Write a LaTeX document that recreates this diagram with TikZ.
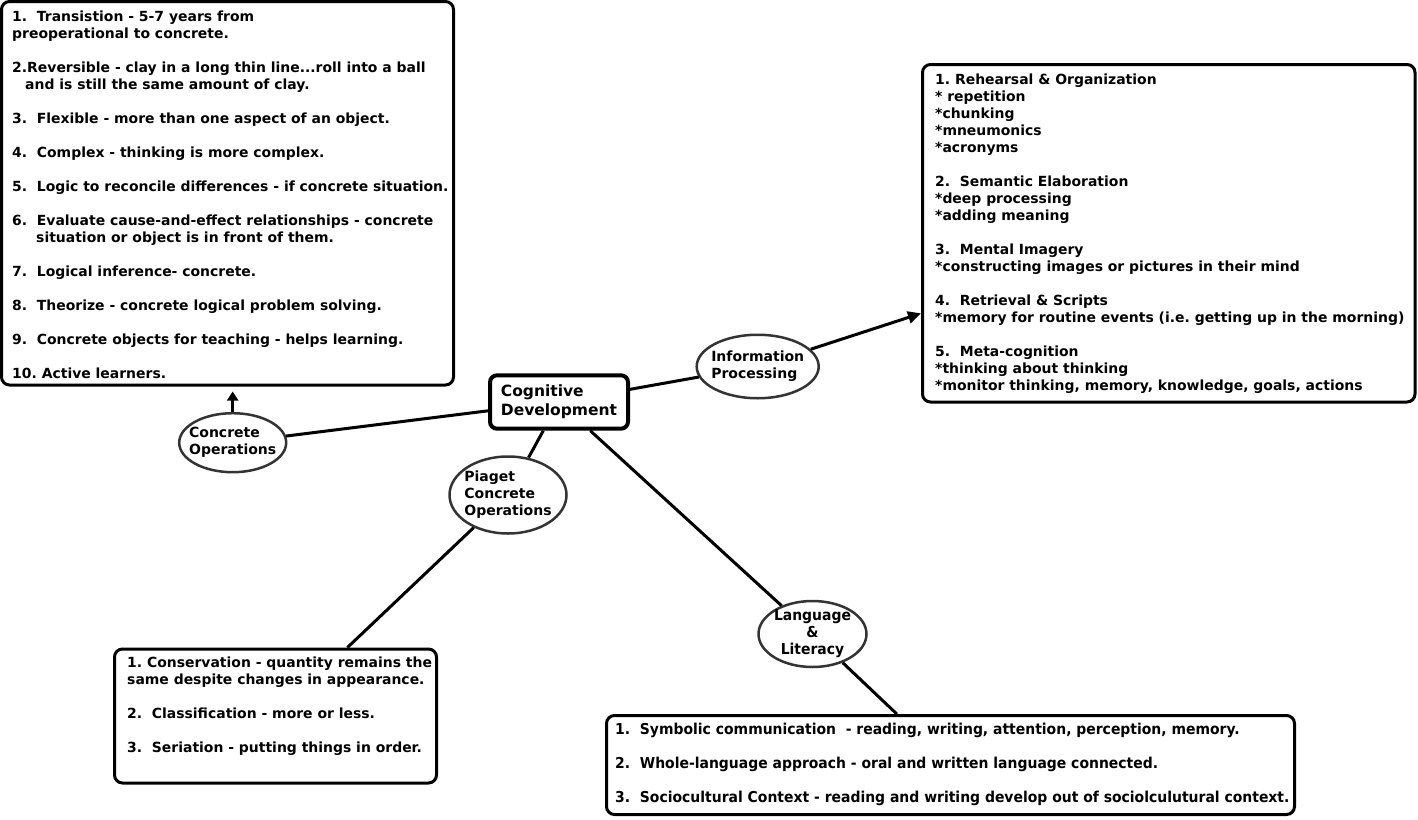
\documentclass[tikz,border=0pt]{standalone}
\usepackage{fontspec}
\setmainfont{DejaVu Sans}
\newfontfamily\narrowfont{DejaVu Sans}[FakeStretch=0.93]
\usetikzlibrary{shapes.geometric,arrows.meta}
\frenchspacing
\begin{document}
\begin{tikzpicture}[x=1pt,y=-1pt,
  frame/.style={draw=black, line width=3pt, rounded corners=8pt, fill=white, inner sep=0pt},
  txt/.style={anchor=north west, inner sep=0pt, align=left, font=\fontsize{13.95}{17}\selectfont\bfseries},
  ntxt/.style={anchor=north west, inner sep=0pt, align=left, font=\narrowfont\fontsize{15}{17}\selectfont\bfseries},
  oval/.style={ellipse, draw=black!80, line width=2.5pt, fill=white, inner sep=-6pt, align=left, font=\fontsize{14}{17}\selectfont\bfseries},
  hub/.style={draw=black, line width=4pt, rounded corners=7pt, fill=white, inner sep=0pt, align=left, font=\fontsize{15.5}{19}\selectfont\bfseries},
  link/.style={line width=3pt},
  arr/.style={line width=3pt, -{Triangle[length=13pt,width=12pt]}}]
\useasboundingbox (0,0) rectangle (1418,819);

% frames
\node[frame, minimum width=452pt, minimum height=383.5pt] (b1) at (227.5,193.25) {};
\node[frame, minimum width=492.5pt, minimum height=337.5pt] (b2) at (1168.75,233.25) {};
\node[frame, minimum width=322pt, minimum height=134pt] (b3) at (275.5,716) {};
\node[frame, minimum width=688pt, minimum height=99pt] (b4) at (950.5,765) {};

% central and ellipses
\node[hub, minimum width=138pt, minimum height=53.4pt] (cog) at (559,402) {Cognitive\\Development};
\node[oval, minimum width=107pt, minimum height=59pt] (conc) at (232.7,442.7) {Concrete\\Operations};
\node[oval, minimum width=122pt, minimum height=63.5pt] (info) at (757.7,366.5) {Information\\Processing};
\node[oval, minimum width=117pt, minimum height=77pt] (pia) at (508,495) {Piaget\\Concrete\\Operations};
\node[oval, align=center, font=\narrowfont\fontsize{15}{17}\selectfont\bfseries, minimum width=108pt, minimum height=66pt] (lang) at (812.5,634) {Language\\\&\\Literacy};

% connectors
\draw[link] (conc) -- (cog);
\draw[link] (cog) -- (info);
\draw[link] (cog) -- (pia);
\draw[link] (cog) -- (lang);
\draw[link] (pia) -- (b3);
\draw[link] (lang) -- (b4);
\draw[arr] (info) -- (b2);
\draw[line width=3pt, -{Triangle[length=9pt,width=11pt]}, shorten >=5pt] (conc.north) -- (conc.north |- b1.south);

% texts
\node[txt] (t1) at (12,11) {1.\ \ Transistion - 5-7 years from\\
preoperational to concrete.\\[17pt]
2.Reversible - clay in a long thin line...roll into a ball\\
\hspace*{13pt}and is still the same amount of clay.\\[17pt]
3.\ \ Flexible - more than one aspect of an object.\\[17pt]
4.\ \ Complex - thinking is more complex.\\[17pt]
5.\ \ Logic to reconcile differences - if concrete situation.\\[17pt]
6.\ \ Evaluate cause-and-effect relationships - concrete\\
\hspace*{24pt}situation or object is in front of them.\\[17pt]
7.\ \ Logical inference- concrete.\\[17pt]
8.\ \ Theorize - concrete logical problem solving.\\[17pt]
9.\ \ Concrete objects for teaching - helps learning.\\[17pt]
10. Active learners.};

\node[txt] (t2) at (935,74) {1. Rehearsal \& Organization\\
* repetition\\
*chunking\\
*mneumonics\\
*acronyms\\[17pt]
2.\ \ Semantic Elaboration\\
*deep processing\\
*adding meaning\\[17pt]
3.\ \ Mental Imagery\\
*constructing images or pictures in their mind\\[17pt]
4.\ \ Retrieval \& Scripts\\
*memory for routine events (i.e. getting up in the morning)\\[17pt]
5.\ \ Meta-cognition\\
*thinking about thinking\\
*monitor thinking, memory, knowledge, goals, actions};

\node[txt] (t3) at (127,657) {1. Conservation - quantity remains the\\
same despite changes in appearance.\\[17pt]
2.\ \ Classification - more or less.\\[17pt]
3.\ \ Seriation - putting things in order.};

\node[ntxt] (t4) at (615,723) {1.\ \ Symbolic communication\ \ - reading, writing, attention, perception, memory.\\[17pt]
2.\ \ Whole-language approach - oral and written language connected.\\[17pt]
3.\ \ Sociocultural Context - reading and writing develop out of sociolculutural context.};
\end{tikzpicture}
\end{document}
